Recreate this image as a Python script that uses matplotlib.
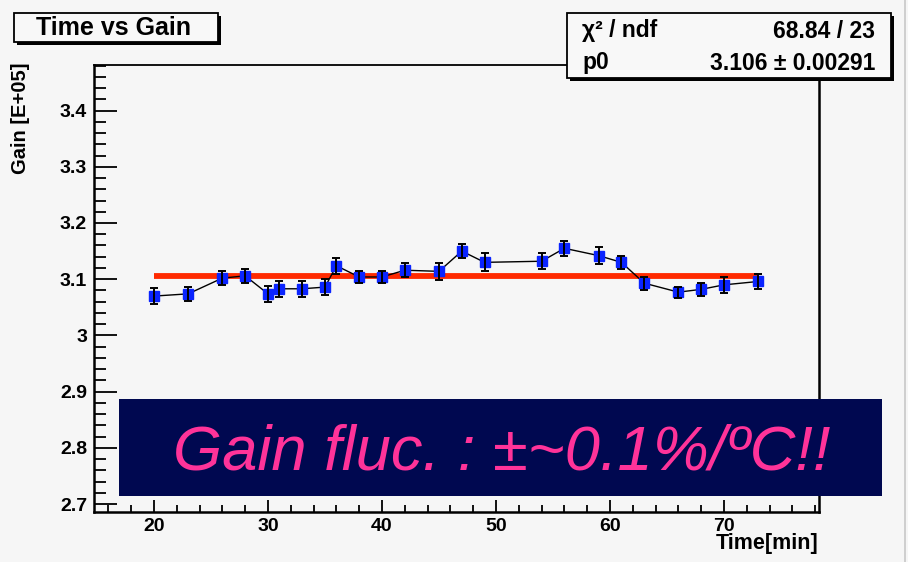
import matplotlib
matplotlib.use("Agg")
import matplotlib.pyplot as plt
from matplotlib.patches import Rectangle
from matplotlib.lines import Line2D
from matplotlib.ticker import MultipleLocator, FuncFormatter

# Measured gain versus time
time_min = [20, 23, 26, 28, 30, 31, 33, 35, 36, 38, 40, 42,
            45, 47, 49, 54, 56, 59, 61, 63, 66, 68, 70, 73]
gain = [3.070, 3.074, 3.102, 3.106, 3.074, 3.083, 3.083, 3.086,
        3.124, 3.104, 3.104, 3.116, 3.114, 3.150, 3.130, 3.132,
        3.155, 3.142, 3.130, 3.093, 3.077, 3.082, 3.090, 3.096]
gain_err = [0.014, 0.013, 0.012, 0.012, 0.0145, 0.0145, 0.014, 0.0145,
            0.0145, 0.0105, 0.0115, 0.0125, 0.0145, 0.012, 0.016, 0.0143,
            0.0136, 0.0145, 0.012, 0.0115, 0.010, 0.012, 0.0143, 0.0125]

# Constant fit result
fit_p0 = 3.106
fit_p0_err = 0.00291
chi2 = 68.84
ndf = 23

title = "Time vs Gain"
x_label = "Time[min]"
y_label = "Gain [E+05]"
banner = "Gain fluc. : \u00b1~0.1%/\u00baC!!"

W, H = 908, 562
BG = "#f6f6f6"
FONT = "Liberation Sans"

fig = plt.figure(figsize=(W / 100, H / 100), dpi=100, facecolor=BG)


def fx(px):
    return px / W


def fy(py):
    return 1 - py / H


# Plot frame in pixel positions
ax_l, ax_r, ax_t, ax_b = 94, 819, 65, 512
ax = fig.add_axes([fx(ax_l), fy(ax_b), fx(ax_r - ax_l), (ax_b - ax_t) / H])
ax.set_facecolor(BG)
ax.set_xlim(14.74, 78.33)
ax.set_ylim(2.686, 3.481)

for side, lw in (("left", 1.8), ("bottom", 1.8), ("top", 1.3), ("right", 1.8)):
    ax.spines[side].set_linewidth(lw)
    ax.spines[side].set_color("black")

ax.xaxis.set_major_locator(MultipleLocator(10))
ax.xaxis.set_minor_locator(MultipleLocator(2))
ax.yaxis.set_major_locator(MultipleLocator(0.1))
ax.yaxis.set_minor_locator(MultipleLocator(0.02))
ax.yaxis.set_major_formatter(FuncFormatter(lambda v, p: f"{v:.1f}".rstrip("0").rstrip(".")))
ax.xaxis.set_major_formatter(FuncFormatter(lambda v, p: f"{v:g}"))

ax.tick_params(axis="y", which="major", direction="in", length=16.5, width=1.3,
               right=False, pad=5)
ax.tick_params(axis="y", which="minor", direction="in", length=8.5, width=1.3, right=False)
ax.tick_params(axis="x", which="major", direction="in", length=8.5, width=1.3,
               top=False, pad=4)
ax.tick_params(axis="x", which="minor", direction="in", length=5, width=1.3, top=False)
for lab in ax.get_xticklabels() + ax.get_yticklabels():
    lab.set_fontfamily(FONT)
    lab.set_fontweight("bold")
    lab.set_fontsize(14)

# Fit line
ax.plot([min(time_min), max(time_min)], [fit_p0, fit_p0], color="#ff2a00",
        lw=4.2, solid_capstyle="butt", zorder=2)

# Data with error bars
ax.plot(time_min, gain, color="black", lw=1.0, zorder=3)
ax.plot(time_min, gain, ls="none", marker="s", ms=7.3, color="#0a24ff",
        mec="#0a24ff", zorder=5)
ax.errorbar(time_min, gain, yerr=gain_err, fmt="none", ecolor="black",
            elinewidth=1.4, capsize=3, capthick=1.4, zorder=6)

# Axis titles
fig.text(fx(21), fy(62), y_label, rotation=90, ha="center", va="top",
         fontfamily=FONT, fontweight="bold", fontsize=14.5)
fig.text(fx(818), fy(544), x_label, ha="right", va="center",
         fontfamily=FONT, fontweight="bold", fontsize=15.5)


def shadow_box(x0, y0, x1, y1, shadow=3):
    fig.add_artist(Rectangle((fx(x0 + shadow), fy(y1 + shadow)),
                             fx(x1 - x0), (y1 - y0) / H,
                             transform=fig.transFigure, facecolor="black",
                             edgecolor="black", lw=0, zorder=20))
    fig.add_artist(Rectangle((fx(x0), fy(y1)), fx(x1 - x0), (y1 - y0) / H,
                             transform=fig.transFigure, facecolor="#f8f8f8",
                             edgecolor="black", lw=1.3, zorder=21))


# Title box
shadow_box(14, 13, 218, 42)
fig.text(fx(114), fy(28), title, ha="center", va="center", fontfamily=FONT,
         fontweight="bold", fontsize=18, zorder=22)

# Statistics box
shadow_box(567, 13, 891, 78)
fig.text(fx(582), fy(30), "\u03c7\u00b2 / ndf", ha="left", va="center",
         fontfamily=FONT, fontweight="bold", fontsize=16.5, zorder=22)
fig.text(fx(875), fy(31), f"{chi2:.2f} / {ndf}", ha="right", va="center",
         fontfamily=FONT, fontweight="bold", fontsize=16.5, zorder=22)
fig.text(fx(582), fy(62), "p0", ha="left", va="center",
         fontfamily=FONT, fontweight="bold", fontsize=16.5, zorder=22)
fig.text(fx(875), fy(63), f"{fit_p0:.3f} \u00b1 {fit_p0_err:.5f}", ha="right",
         va="center", fontfamily=FONT, fontweight="bold", fontsize=16.5, zorder=22)

# Banner
fig.add_artist(Rectangle((fx(119), fy(496)), fx(882 - 119), (496 - 399) / H,
                         transform=fig.transFigure, facecolor="#000850",
                         edgecolor="none", zorder=30))
fig.text(fx(173), fy(469), banner, ha="left", va="baseline", fontfamily=FONT,
         fontstyle="italic", fontsize=45.5, color="#ff3399", zorder=31)

# Outer edge line
fig.add_artist(Line2D([fx(905), fx(905)], [0, 1], transform=fig.transFigure,
                      color="#c8c8c8", lw=1.2))

fig.savefig("out.png", dpi=100, facecolor=BG)
